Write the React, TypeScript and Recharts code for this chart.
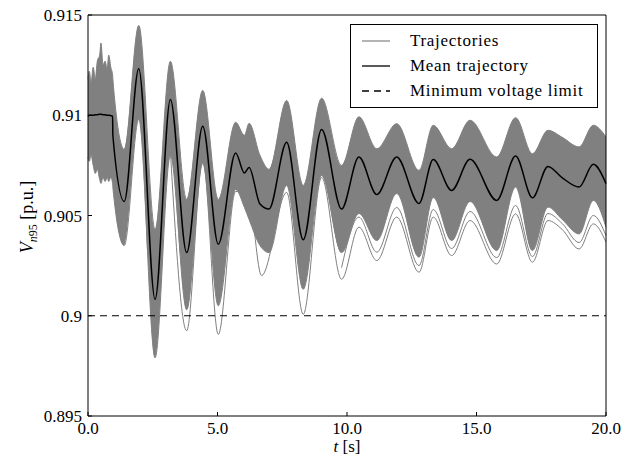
import {
  ComposedChart,
  Area,
  Line,
  XAxis,
  YAxis,
  ReferenceLine,
} from "recharts";

// time grid (s) shared by the mean and the envelope of all trajectories
const times = [
  0, 0.05, 0.12, 0.2, 0.28, 0.36, 0.45, 0.5, 0.58, 0.66, 0.74, 0.8, 0.88, 0.95,
  0.96, 1.4, 1.96, 2.59, 3.18, 3.81, 4.43, 5.03, 5.7, 6.04, 6.22, 6.64, 6.99,
  7.67, 8.31, 9.02, 9.79, 10.46, 11.15, 11.92, 12.78, 13.33, 14.04, 14.75,
  15.78, 16.51, 17.16, 17.76, 18.31, 18.96, 19.51, 20,
];

const meanV = [
  0.90995, 0.91, 0.91, 0.91, 0.91002, 0.91003, 0.91005, 0.91005, 0.91003,
  0.91002, 0.91, 0.91, 0.90998, 0.90995, 0.909, 0.9057, 0.91232, 0.90082,
  0.91079, 0.90315, 0.90945, 0.90357, 0.90812, 0.90712, 0.9074, 0.90557,
  0.90532, 0.90865, 0.90379, 0.90929, 0.90532, 0.90792, 0.90605, 0.90792,
  0.9056, 0.90779, 0.90625, 0.9078, 0.90575, 0.90797, 0.90588, 0.90745,
  0.90688, 0.90642, 0.90755, 0.90659,
];

const upperV = [
  0.9118, 0.9122, 0.9116, 0.9124, 0.9118, 0.9127, 0.913, 0.9136, 0.9125,
  0.9127, 0.9123, 0.913, 0.9124, 0.912, 0.9118, 0.9083, 0.91448, 0.9043,
  0.91269, 0.9058, 0.91124, 0.9058, 0.90965, 0.909, 0.9096, 0.908, 0.9073,
  0.91074, 0.9065, 0.91085, 0.9075, 0.90992, 0.90833, 0.90958, 0.90725,
  0.9095, 0.90833, 0.90975, 0.90792, 0.90988, 0.90808, 0.90925, 0.9089,
  0.90842, 0.9095, 0.90892,
];

const lowerV = [
  0.9079, 0.9077, 0.908, 0.9075, 0.9071, 0.9073, 0.9068, 0.9066, 0.9069,
  0.9067, 0.9069, 0.9067, 0.9069, 0.9066, 0.9064, 0.9035, 0.9098, 0.8979,
  0.908, 0.9003, 0.9076, 0.9005, 0.9063, 0.9054, 0.9048, 0.9035, 0.90315,
  0.9065, 0.90132, 0.907, 0.90315, 0.9051, 0.90375, 0.9061, 0.90292, 0.9059,
  0.90375, 0.9057, 0.90325, 0.90642, 0.90325, 0.90542, 0.9048, 0.90408,
  0.90575, 0.90442,
];

// two single trajectories that stray below the bundle
const lowestTimes = [
  3.18, 3.81, 4.43, 5.03, 5.7, 6.22, 6.7, 7.67, 8.31, 9.02, 9.79, 10.46, 11.15,
  11.92, 12.78, 13.33, 14.04, 14.75, 15.78, 16.51, 17.16, 17.76, 18.31, 18.96,
  19.51, 20,
];
const lowestV = [
  0.9082, 0.89925, 0.9078, 0.89907, 0.9062, 0.9058, 0.902, 0.90615, 0.90007,
  0.9069, 0.90182, 0.90442, 0.90275, 0.90492, 0.90217, 0.90492, 0.903, 0.90475,
  0.90258, 0.90508, 0.90267, 0.90475, 0.9043, 0.90333, 0.90458, 0.90367,
];

const lowTimes = [
  9.79, 10.46, 11.15, 11.92, 12.78, 13.33, 14.04, 14.75, 15.78, 16.51, 17.16,
  17.76, 18.31, 18.96, 19.51, 20,
];
const lowV = [
  0.9024, 0.90492, 0.90317, 0.9054, 0.9025, 0.9053, 0.90335, 0.9052, 0.9029,
  0.9055, 0.90295, 0.9051, 0.9046, 0.90365, 0.905, 0.904,
];

const xTicks = [0, 5, 10, 15, 20];
const yTicks = [0.895, 0.9, 0.905, 0.91, 0.915];
const limitV = 0.9;

const legendItems = [
  { label: "Trajectories", color: "#8c8c8c", dash: undefined },
  { label: "Mean trajectory", color: "#000", dash: undefined },
  { label: "Minimum voltage limit", color: "#000", dash: "7 5" },
];

const band = times.map((t, i) => ({ t, mean: meanV[i], range: [lowerV[i], upperV[i]] }));
const lowest = lowestTimes.map((t, i) => ({ t, v: lowestV[i] }));
const low = lowTimes.map((t, i) => ({ t, v: lowV[i] }));

const FONT = "Liberation Serif, Times New Roman, serif";
const GRAY = "#808080";
const tickStyle = { fill: "#000", fontSize: 17, style: { fontFamily: FONT } };

// axis titles sit at fixed spots below / left of the plot frame
function XLabel() {
  return (
    <text x={347} y={452} textAnchor="middle" fontSize={17} fill="#000" style={{ fontFamily: FONT }}>
      <tspan fontStyle="italic">t</tspan>
      <tspan> [s]</tspan>
    </text>
  );
}

function YLabel() {
  const cx = 33;
  const cy = 217;
  return (
    <text
      x={cx}
      y={cy}
      transform={`rotate(-90 ${cx} ${cy})`}
      textAnchor="middle"
      fontSize={18}
      fill="#000"
      style={{ fontFamily: FONT }}
    >
      <tspan fontStyle="italic">V</tspan>
      <tspan fontSize={12} dy={4} fontStyle="italic">n</tspan>
      <tspan fontSize={12}>95</tspan>
      <tspan dy={-4}> [p.u.]</tspan>
    </text>
  );
}

function LegendBox() {
  return (
    <div
      style={{
        position: "absolute",
        left: 350,
        top: 24,
        width: 246,
        height: 82,
        border: "1px solid #000",
        background: "#fff",
        fontFamily: FONT,
        fontSize: 17,
        letterSpacing: 0.7,
      }}
    >
      {legendItems.map((item, i) => (
        <div
          key={item.label}
          style={{ position: "absolute", left: 11, top: 3 + i * 25, height: 25, display: "flex", alignItems: "center" }}
        >
          <svg width={28} height={4} style={{ marginRight: 20 }}>
            <line x1={0} y1={2} x2={28} y2={2} stroke={item.color} strokeWidth={1.3} strokeDasharray={item.dash} />
          </svg>
          <span style={{ whiteSpace: "nowrap" }}>{item.label}</span>
        </div>
      ))}
    </div>
  );
}

export default function App() {
  return (
    <div
      style={{
        position: "absolute",
        left: 0,
        top: 0,
        width: 638,
        height: 460,
        background: "#fff",
        fontFamily: FONT,
      }}
    >
      <ComposedChart
        width={638}
        height={460}
        margin={{ top: 14, right: 31, bottom: 14, left: 28 }}
        style={{ fontFamily: FONT }}
      >
        <XAxis
          xAxisId="b"
          type="number"
          dataKey="t"
          domain={[0, 20]}
          ticks={xTicks}
          tickFormatter={(v: number) => v.toFixed(1)}
          height={30}
          tickSize={-4}
          tickMargin={10}
          stroke="#000"
          tick={tickStyle}
          label={<XLabel />}
        />
        <XAxis
          xAxisId="top"
          orientation="top"
          type="number"
          dataKey="t"
          domain={[0, 20]}
          ticks={xTicks}
          tickFormatter={() => ""}
          height={1}
          tickSize={-4}
          stroke="#000"
        />
        <YAxis
          yAxisId="l"
          type="number"
          domain={[0.895, 0.915]}
          ticks={yTicks}
          tickFormatter={(v: number) => String(v)}
          width={60}
          tickSize={-4}
          tickMargin={10}
          stroke="#000"
          tick={tickStyle}
          label={<YLabel />}
        />
        <YAxis
          yAxisId="r"
          orientation="right"
          type="number"
          domain={[0.895, 0.915]}
          ticks={yTicks}
          tickFormatter={() => ""}
          width={1}
          tickSize={-4}
          stroke="#000"
        />
        <Area
          xAxisId="b"
          yAxisId="l"
          data={band}
          dataKey="range"
          type="monotone"
          fill={GRAY}
          fillOpacity={1}
          stroke={GRAY}
          strokeWidth={1}
          isAnimationActive={false}
        />
        <Line
          xAxisId="b"
          yAxisId="l"
          data={low}
          dataKey="v"
          type="monotone"
          stroke={GRAY}
          strokeWidth={1}
          dot={false}
          isAnimationActive={false}
        />
        <Line
          xAxisId="b"
          yAxisId="l"
          data={lowest}
          dataKey="v"
          type="monotone"
          stroke={GRAY}
          strokeWidth={1}
          dot={false}
          isAnimationActive={false}
        />
        <Line
          xAxisId="b"
          yAxisId="l"
          data={band}
          dataKey="mean"
          type="monotone"
          stroke="#000"
          strokeWidth={1.5}
          dot={false}
          isAnimationActive={false}
        />
        <ReferenceLine xAxisId="b" yAxisId="l" y={limitV} stroke="#000" strokeWidth={1.2} strokeDasharray="7 5" />
      </ComposedChart>
      <LegendBox />
    </div>
  );
}
